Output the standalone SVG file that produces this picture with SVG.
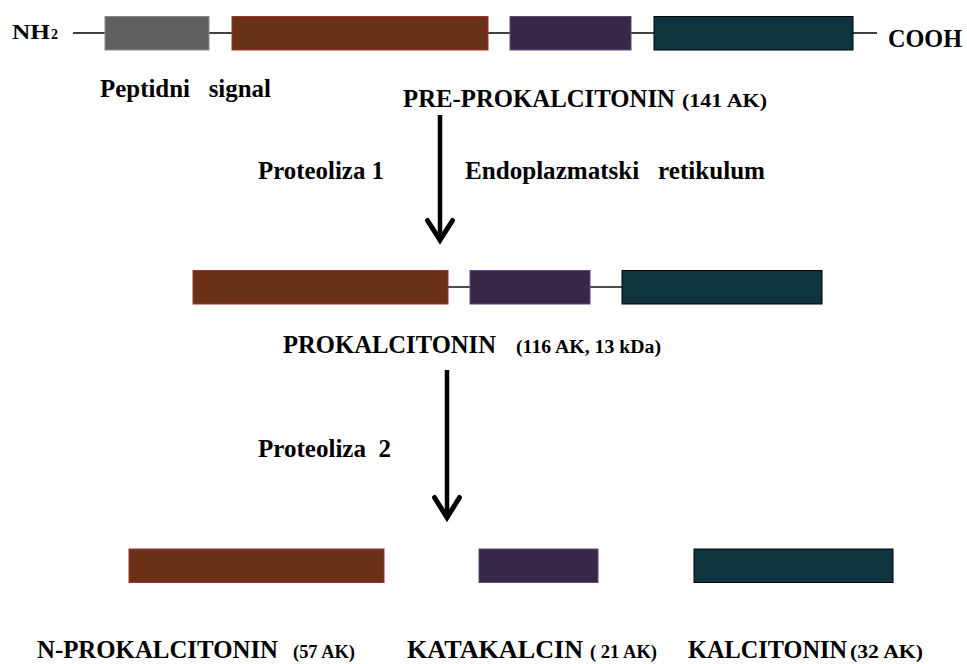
<svg xmlns="http://www.w3.org/2000/svg" width="967" height="664" viewBox="0 0 967 664">
<style>
text{font-family:"Liberation Serif","Times New Roman",serif;font-weight:bold;fill:#000}
.big{font-size:24.6px}
.sm{font-size:18px}
.gray{fill:#606060;stroke:#8a8a8a;stroke-width:1}
.brown{fill:#693216;stroke:#a0332c;stroke-width:1}
.purple{fill:#372848;stroke:#5e4a80;stroke-width:1}
.teal{fill:#0e3440;stroke:#000;stroke-width:1}
.link{stroke:#000;stroke-width:1.4;fill:none}
.shaft{stroke:#000;stroke-width:4.5;fill:none}
.head{stroke:#000;stroke-width:5;fill:none;stroke-linejoin:miter;stroke-miterlimit:10;stroke-linecap:round}
</style>
<rect width="967" height="664" fill="#fff"/>
<g id="connectors">
<line class="link" x1="73" y1="33" x2="877" y2="33"/>
<line class="link" x1="448" y1="287" x2="470" y2="287"/>
<line class="link" x1="590" y1="287" x2="622" y2="287"/>
<g id="arrow1">
<line class="shaft" x1="440" y1="115" x2="440" y2="238"/>
<polyline class="head" points="427.5,220.5 440,240 452.5,220.5"/>
</g>
<g id="arrow2">
<line class="shaft" x1="447" y1="370" x2="447" y2="516"/>
<polyline class="head" points="434.5,497.5 447,517.5 459.5,497.5"/>
</g>
</g>
<g id="pre-prokalcitonin">
<rect id="peptidni-signal" class="gray" x="105" y="16.5" width="104" height="33.5"/>
<rect id="pre-n" class="brown" x="232" y="16.5" width="256" height="33.5"/>
<rect id="pre-kata" class="purple" x="510" y="16.5" width="121" height="33.5"/>
<rect id="pre-kalc" class="teal" x="654" y="16.5" width="199" height="33.5"/>
</g>
<g id="prokalcitonin">
<rect class="brown" x="193" y="270.5" width="255" height="33.5"/>
<rect class="purple" x="470" y="270.5" width="120" height="33.5"/>
<rect class="teal" x="622" y="270.5" width="200" height="33.5"/>
</g>
<g id="n-prokalcitonin">
<rect class="brown" x="129" y="549" width="255" height="33.5"/>
</g>
<g id="katakalcin">
<rect class="purple" x="479" y="549" width="119" height="33.5"/>
</g>
<g id="kalcitonin">
<rect class="teal" x="694" y="549" width="199" height="33.5"/>
</g>
<g id="labels">
<text x="12" y="39" style="font-size:22px" textLength="38" lengthAdjust="spacingAndGlyphs">NH</text>
<text x="51" y="39" style="font-size:14px" textLength="7" lengthAdjust="spacingAndGlyphs">2</text>
<text x="888" y="47" style="font-size:24.4px" textLength="74" lengthAdjust="spacingAndGlyphs">COOH</text>
<text x="100" y="97" style="font-size:24.8px" xml:space="preserve" textLength="171" lengthAdjust="spacingAndGlyphs">Peptidni   signal</text>
<text class="big" x="403" y="107" textLength="272" lengthAdjust="spacingAndGlyphs">PRE-PROKALCITONIN</text>
<text class="sm" x="682" y="107" textLength="85" lengthAdjust="spacingAndGlyphs">(141 AK)</text>
<text class="big" x="258" y="179" textLength="126" lengthAdjust="spacingAndGlyphs">Proteoliza 1</text>
<text class="big" x="465" y="179" xml:space="preserve" textLength="300" lengthAdjust="spacingAndGlyphs">Endoplazmatski   retikulum</text>
<text class="big" x="283" y="353" textLength="213" lengthAdjust="spacingAndGlyphs">PROKALCITONIN</text>
<text class="sm" x="516" y="353" textLength="145" lengthAdjust="spacingAndGlyphs">(116 AK, 13 kDa)</text>
<text class="big" x="258" y="457" xml:space="preserve" textLength="133" lengthAdjust="spacingAndGlyphs">Proteoliza  2</text>
<text class="big" x="37" y="658" textLength="241" lengthAdjust="spacingAndGlyphs">N-PROKALCITONIN</text>
<text class="sm" x="293" y="658" textLength="62" lengthAdjust="spacingAndGlyphs">(57 AK)</text>
<text class="big" x="407" y="658" textLength="176" lengthAdjust="spacingAndGlyphs">KATAKALCIN</text>
<text class="sm" x="590" y="658" xml:space="preserve" textLength="67" lengthAdjust="spacingAndGlyphs">( 21 AK)</text>
<text style="font-size:24.2px" x="688" y="658" textLength="159" lengthAdjust="spacingAndGlyphs">KALCITONIN</text>
<text class="sm" x="850" y="658" textLength="73" lengthAdjust="spacingAndGlyphs">(32 AK)</text>
</g>
</svg>
